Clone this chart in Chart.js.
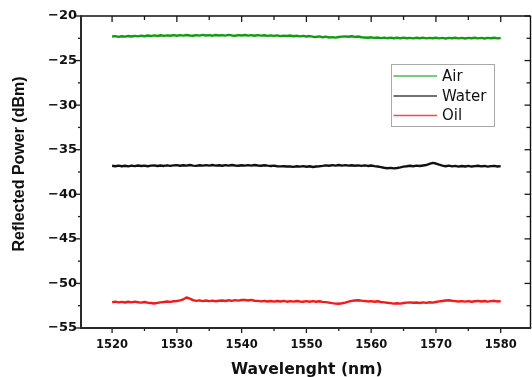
<!DOCTYPE html>
<html>
<head>
<meta charset="utf-8">
<script src="https://cdn.jsdelivr.net/npm/chart.js@4/dist/chart.umd.min.js"></script>
<style>
  html, body { margin: 0; padding: 0; background: #fff; }
  #wrap { width: 532px; height: 377px; }
</style>
</head>
<body>
<div id="wrap"><canvas id="c" width="532" height="377"></canvas></div>
<script>
// Sampling grid (nm) and reflected power per medium (dBm)
const wavelengths = [
  1520,1520.5,1521,1521.5,1522,1522.5,1523,1523.5,1524,1524.5,
  1525,1525.5,1526,1526.5,1527,1527.5,1528,1528.5,1529,1529.5,
  1530,1530.5,1531,1531.5,1532,1532.5,1533,1533.5,1534,1534.5,
  1535,1535.5,1536,1536.5,1537,1537.5,1538,1538.5,1539,1539.5,
  1540,1540.5,1541,1541.5,1542,1542.5,1543,1543.5,1544,1544.5,
  1545,1545.5,1546,1546.5,1547,1547.5,1548,1548.5,1549,1549.5,
  1550,1550.5,1551,1551.5,1552,1552.5,1553,1553.5,1554,1554.5,
  1555,1555.5,1556,1556.5,1557,1557.5,1558,1558.5,1559,1559.5,
  1560,1560.5,1561,1561.5,1562,1562.5,1563,1563.5,1564,1564.5,
  1565,1565.5,1566,1566.5,1567,1567.5,1568,1568.5,1569,1569.5,
  1570,1570.5,1571,1571.5,1572,1572.5,1573,1573.5,1574,1574.5,
  1575,1575.5,1576,1576.5,1577,1577.5,1578,1578.5,1579,1579.5,1580
];

const airPower = [
  -22.30,-22.26,-22.34,-22.27,-22.32,-22.24,-22.30,-22.23,-22.29,-22.21,
  -22.27,-22.19,-22.25,-22.18,-22.24,-22.16,-22.23,-22.17,-22.22,-22.14,
  -22.21,-22.15,-22.20,-22.13,-22.19,-22.22,-22.14,-22.20,-22.12,-22.19,
  -22.15,-22.21,-22.13,-22.19,-22.14,-22.20,-22.12,-22.18,-22.21,-22.14,
  -22.19,-22.13,-22.20,-22.15,-22.22,-22.14,-22.20,-22.16,-22.23,-22.17,
  -22.23,-22.18,-22.26,-22.20,-22.25,-22.19,-22.27,-22.22,-22.28,-22.23,
  -22.30,-22.25,-22.32,-22.35,-22.29,-22.38,-22.32,-22.41,-22.37,-22.43,
  -22.36,-22.32,-22.28,-22.33,-22.27,-22.35,-22.30,-22.38,-22.41,-22.44,
  -22.39,-22.46,-22.41,-22.48,-22.42,-22.49,-22.43,-22.50,-22.44,-22.49,
  -22.43,-22.50,-22.45,-22.51,-22.44,-22.49,-22.43,-22.51,-22.45,-22.50,
  -22.44,-22.51,-22.46,-22.52,-22.45,-22.50,-22.44,-22.51,-22.46,-22.52,
  -22.45,-22.50,-22.44,-22.51,-22.46,-22.52,-22.45,-22.50,-22.44,-22.51,-22.47
];

const waterPower = [
  -36.80,-36.86,-36.78,-36.85,-36.80,-36.87,-36.79,-36.84,-36.77,-36.83,
  -36.78,-36.85,-36.79,-36.76,-36.83,-36.77,-36.82,-36.75,-36.81,-36.76,
  -36.73,-36.80,-36.74,-36.79,-36.72,-36.78,-36.81,-36.74,-36.79,-36.73,
  -36.78,-36.72,-36.79,-36.74,-36.80,-36.73,-36.78,-36.71,-36.77,-36.80,
  -36.74,-36.79,-36.73,-36.78,-36.72,-36.77,-36.80,-36.74,-36.79,-36.82,
  -36.78,-36.85,-36.87,-36.86,-36.89,-36.88,-36.92,-36.85,-36.90,-36.84,
  -36.91,-36.86,-36.94,-36.88,-36.85,-36.81,-36.75,-36.80,-36.73,-36.78,
  -36.72,-36.78,-36.73,-36.79,-36.74,-36.80,-36.75,-36.81,-36.76,-36.82,
  -36.77,-36.84,-36.88,-36.95,-37.02,-37.08,-37.04,-37.10,-37.05,-36.98,
  -36.90,-36.86,-36.80,-36.85,-36.78,-36.83,-36.77,-36.72,-36.60,-36.48,
  -36.55,-36.68,-36.78,-36.85,-36.79,-36.87,-36.81,-36.89,-36.83,-36.88,
  -36.82,-36.89,-36.84,-36.80,-36.87,-36.82,-36.90,-36.84,-36.81,-36.88,-36.84
];

const oilPower = [
  -52.10,-52.05,-52.13,-52.07,-52.14,-52.06,-52.12,-52.04,-52.11,-52.15,
  -52.08,-52.16,-52.20,-52.25,-52.18,-52.12,-52.08,-52.03,-52.07,-52.00,
  -51.97,-51.90,-51.78,-51.58,-51.70,-51.88,-51.96,-51.90,-51.98,-51.92,
  -51.99,-51.93,-52.00,-51.94,-51.91,-51.97,-51.89,-51.95,-51.87,-51.93,
  -51.86,-51.84,-51.91,-51.85,-51.94,-51.96,-52.02,-51.95,-52.03,-51.97,
  -52.04,-51.97,-52.03,-51.96,-52.05,-51.98,-52.04,-51.97,-52.03,-52.05,
  -51.99,-52.05,-51.98,-52.06,-52.00,-52.07,-52.10,-52.15,-52.21,-52.26,
  -52.28,-52.22,-52.15,-52.05,-51.96,-51.92,-51.88,-51.93,-51.97,-52.02,
  -51.99,-52.06,-52.00,-52.08,-52.12,-52.17,-52.21,-52.26,-52.23,-52.27,
  -52.20,-52.15,-52.13,-52.16,-52.14,-52.19,-52.13,-52.18,-52.11,-52.15,
  -52.08,-52.02,-51.97,-51.92,-51.89,-51.94,-51.98,-52.03,-51.99,-52.04,
  -51.99,-52.06,-52.00,-51.96,-52.03,-51.97,-52.04,-51.99,-51.95,-52.02,-51.98
];

const seriesNames = ['Air', 'Water', 'Oil'];
const xTickLabels = [1520, 1530, 1540, 1550, 1560, 1570, 1580];
const yTickLabels = [-55, -50, -45, -40, -35, -30, -25, -20];
const xTitle = 'Wavelenght (nm)';
const yTitle = 'Reflected Power (dBm)';

const seriesColors = ['#139a13', '#111111', '#f21a1a'];
const legendColors = ['#4cb84c', '#444444', '#f24a4a'];
const seriesValues = [airPower, waterPower, oilPower];

function toPoints(values) {
  return values.map((v, i) => ({ x: wavelengths[i], y: v }));
}

// Box frame, Origin-style ticks (outward on left/bottom, inward on top/right), titles and legend
const framePlugin = {
  id: 'frame',
  afterDatasetsDraw(chart) {
    const { ctx, chartArea: a, scales: { x, y } } = chart;
    ctx.save();
    ctx.lineCap = 'butt';
    ctx.strokeStyle = '#1a1a1a';
    ctx.lineWidth = 1.3;
    const line = (x1, y1, x2, y2) => { ctx.beginPath(); ctx.moveTo(x1, y1); ctx.lineTo(x2, y2); ctx.stroke(); };

    for (let v = 1520; v <= x.max; v += 5) {
      const px = x.getPixelForValue(v);
      const len = (v % 10 === 0) ? 5 : 3;
      line(px, a.bottom, px, a.bottom + len);
      line(px, a.top, px, a.top + len + 1);
    }
    for (let v = -55; v <= -20; v += 2.5) {
      const py = y.getPixelForValue(v);
      const major = Math.abs(v % 5) < 1e-9;
      const len = major ? 5 : 3;
      line(a.left, py, a.left - len, py);
      line(a.right, py, a.right - len - 1, py);
    }

    // top and right border
    ctx.strokeStyle = '#111';
    ctx.lineWidth = 1.4;
    line(a.left, a.top, a.right, a.top);
    line(a.right, a.top, a.right, a.bottom);
    // left and bottom axis lines
    ctx.strokeStyle = '#2a2a2a';
    ctx.lineWidth = 2;
    line(a.left, a.top - 0.7, a.left, a.bottom + 1);
    line(a.left - 1, a.bottom, a.right + 0.7, a.bottom);
    ctx.restore();
  },
  afterDraw(chart) {
    const { ctx, chartArea: a } = chart;
    ctx.save();
    ctx.fillStyle = '#111';

    // axis titles
    ctx.font = 'bold 15.6px "DejaVu Sans"';
    ctx.textAlign = 'center';
    ctx.textBaseline = 'alphabetic';
    ctx.fillText(xTitle, (a.left + a.right) / 2 + 1, 374);

    ctx.translate(20, 164);
    ctx.rotate(-Math.PI / 2);
    ctx.font = 'bold 16px "Liberation Sans"';
    ctx.textBaseline = 'middle';
    ctx.fillText(yTitle, 0, 0);
    ctx.setTransform(1, 0, 0, 1, 0, 0);

    // legend
    const box = { x: 391.5, y: 64.5, w: 103, h: 62 };
    ctx.strokeStyle = '#a8a8a8';
    ctx.lineWidth = 1;
    ctx.strokeRect(box.x, box.y, box.w, box.h);
    ctx.font = '15px "DejaVu Sans"';
    ctx.textAlign = 'left';
    ctx.textBaseline = 'middle';
    const rows = [76, 96, 115.5];
    chart.data.datasets.forEach((ds, i) => {
      ctx.strokeStyle = legendColors[i];
      ctx.lineWidth = 1.3;
      ctx.beginPath();
      ctx.moveTo(393.5, rows[i]);
      ctx.lineTo(437, rows[i]);
      ctx.stroke();
      ctx.fillStyle = '#111';
      ctx.fillText(ds.label, 442, rows[i] + 1);
    });
    ctx.restore();
  }
};

new Chart(document.getElementById('c'), {
  type: 'line',
  data: {
    datasets: seriesNames.map((name, i) => ({
      label: name,
      data: toPoints(seriesValues[i]),
      borderColor: seriesColors[i],
      borderWidth: 2.4,
      borderJoinStyle: 'round',
      pointRadius: 0,
      tension: 0,
      fill: false
    }))
  },
  options: {
    responsive: false,
    animation: false,
    devicePixelRatio: 1,
    layout: { padding: { top: 16, right: 1.5, left: 0, bottom: 0 } },
    plugins: { legend: { display: false }, tooltip: { enabled: false } },
    scales: {
      x: {
        type: 'linear',
        min: 1515.2,
        max: 1584.6,
        grid: { display: false, drawTicks: false },
        border: { display: false },
        afterBuildTicks: s => { s.ticks = xTickLabels.map(v => ({ value: v })); },
        afterFit: s => { s.height = 49; },
        ticks: {
          padding: 10,
          maxRotation: 0,
          color: '#111',
          font: { family: 'DejaVu Sans', weight: 'bold', size: 11.5 },
          callback: v => String(v)
        }
      },
      y: {
        type: 'linear',
        min: -55,
        max: -20,
        grid: { display: false, drawTicks: false },
        border: { display: false },
        afterBuildTicks: s => { s.ticks = yTickLabels.map(v => ({ value: v })); },
        afterFit: s => { s.width = 81; },
        ticks: {
          padding: 4,
          color: '#111',
          font: { family: 'DejaVu Sans', weight: 'bold', size: 13 },
          callback: v => String(v).replace('-', '\u2212')
        }
      }
    }
  },
  plugins: [framePlugin]
});
</script>
</body>
</html>
